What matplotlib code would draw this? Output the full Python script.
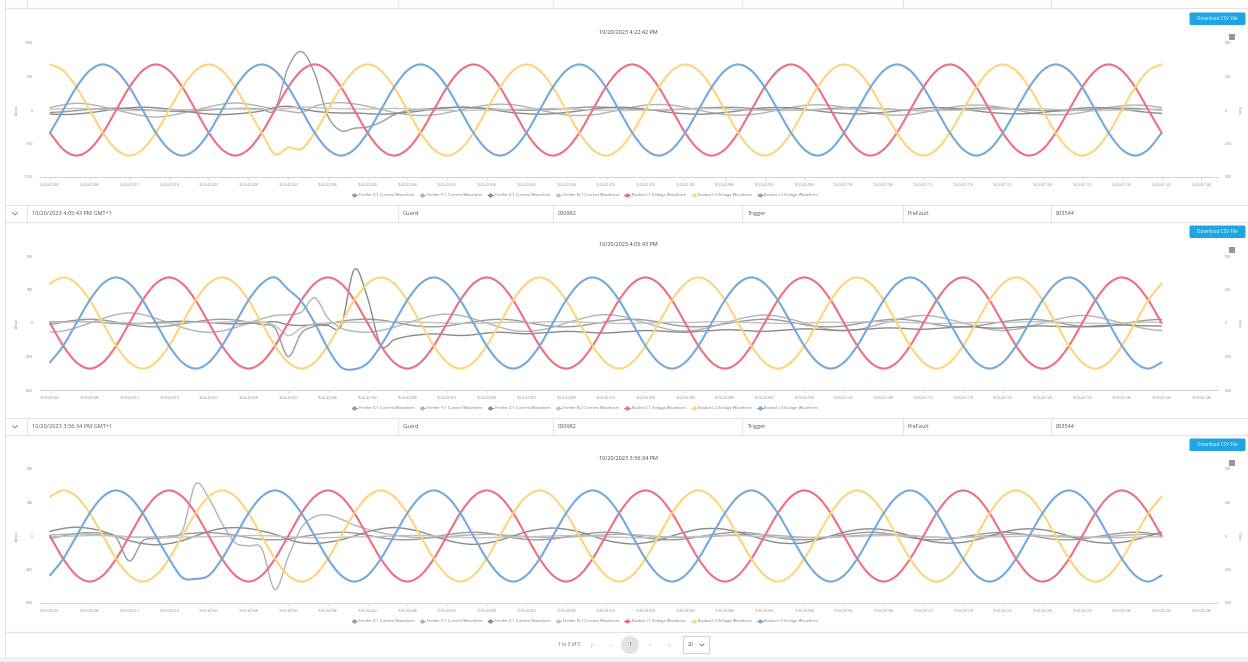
import numpy as np
import matplotlib.pyplot as plt
from matplotlib.patches import Rectangle, FancyBboxPatch, Circle, PathPatch
from matplotlib.lines import Line2D
from matplotlib.path import Path

plt.rcParams['font.family'] = ['Open Sans', 'DejaVu Sans']

W, H = 1248, 662
DT = 5.0 / 3      # ms between samples
T_START = 3.0     # first sample sits on the ".003" tick

feeder_names = ["Feeder X-1 Current Waveform", "Feeder Y-1 Current Waveform",
                "Feeder Z-1 Current Waveform", "Feeder N-1 Current Waveform"]
busbar_names = ["Busbar L1 Voltage Waveform", "Busbar L2 Voltage Waveform",
                "Busbar L3 Voltage Waveform"]
feeder_colors = ['#9a9a9a', '#b3b3b3', '#8a8a8a', '#c2c2c2']
busbar_colors = ['#ec6f82', '#fcd57b', '#74a9db']

tick_ms = [3, 8, 13, 18, 23, 28, 33, 38, 43, 48, 53, 58, 63, 68, 73, 78, 83, 88,
           93, 98, 103, 108, 113, 118, 123, 128, 133, 138, 143, 148]

titles = ["10/20/2023 4:22:42 PM", "10/20/2023 4:05:43 PM", "10/20/2023 3:56:34 PM"]
clocks = ["16:22:42", "16:05:43", "15:56:34"]
amp_limits = [1100, 800, 800]
amp_ticks = [[-1100, -550, 0, 550, 1100], [-800, -400, 0, 400, 800], [-800, -400, 0, 400, 800]]
volt_ticks = [-500, -250, 0, 250, 500]

row_headers = [["10/20/2023 4:05:43 PM GMT+1", "Guard", "000982", "Trigger", "PreFault", "803544"],
               ["10/20/2023 3:56:34 PM GMT+1", "Guard", "000982", "Trigger", "PreFault", "803544"]]

# ---------------- chart 1 (4:22:42 PM) ----------------
red_1 = [
    -170, -294, -340, -294, -170, 0, 170, 294, 340, 294, 170, 0,
    -170, -294, -340, -294, -170, 0, 170, 294, 340, 294, 170, 0,
    -170, -294, -340, -294, -170, 0, 170, 294, 340, 294, 170, 0,
    -170, -294, -340, -294, -170, 0, 170, 294, 340, 294, 170, 0,
    -170, -294, -340, -294, -170, 0, 170, 294, 340, 294, 170, 0,
    -170, -294, -340, -294, -170, 0, 170, 294, 340, 294, 170, 0,
    -170, -294, -340, -294, -170, 0, 170, 294, 340, 294, 170, 0,
    -170]
yellow_1 = [
    340, 294, 170, 0, -170, -294, -340, -294, -170, 0, 170, 294,
    340, 294, 170, 0, -170, -330, -280, -290, -170, 0, 170, 294,
    340, 294, 170, 0, -170, -294, -340, -294, -170, 0, 170, 294,
    340, 294, 170, 0, -170, -294, -340, -294, -170, 0, 170, 294,
    340, 294, 170, 0, -170, -294, -340, -294, -170, 0, 170, 294,
    340, 294, 170, 0, -170, -294, -340, -294, -170, 0, 170, 294,
    340, 294, 170, 0, -170, -294, -340, -294, -170, 0, 170, 294,
    340]
blue_1 = [
    -170, 0, 170, 294, 340, 294, 170, 0, -170, -294, -340, -294,
    -170, 0, 170, 294, 340, 294, 170, 0, -170, -294, -340, -294,
    -170, 0, 170, 294, 340, 294, 170, 0, -170, -294, -340, -294,
    -170, 0, 170, 294, 340, 294, 170, 0, -170, -294, -340, -294,
    -170, 0, 170, 294, 340, 294, 170, 0, -170, -294, -340, -294,
    -170, 0, 170, 294, 340, 294, 170, 0, -170, -294, -340, -294,
    -170, 0, 170, 294, 340, 294, 170, 0, -170, -294, -340, -294,
    -170]
feeder_x_1 = [
    -40, -30, -10, 10, 25, 30, 20, 5, -10, -20, -25, -15,
    0, 15, 25, 25, 15, 10, 700, 960, 600, -100, -340, -300,
    -280, -200, -80, -10, 10, 25, 40, 45, 40, 25, 10, 0,
    -5, 0, 10, 25, 40, 50, 45, 30, 15, 5, 0, 5,
    15, 30, 40, 45, 40, 25, 10, 0, -5, 0, 10, 25,
    35, 40, 35, 20, 5, -5, -10, -5, 5, 20, 30, 35,
    30, 15, 0, -10, -15, -10, 0, 15, 25, 30, 25, 10,
    0]
feeder_y_1 = [
    40, 85, 110, 95, 50, 0, -50, -95, -115, -95, -50, 0,
    50, 95, 115, 95, 55, 10, -20, -40, 60, 110, 120, 100,
    60, 10, -40, -75, -90, -80, -45, 0, 45, 80, 95, 85,
    50, 0, -45, -80, -90, -80, -45, 0, 45, 80, 90, 80,
    45, 0, -45, -75, -85, -75, -45, 0, 40, 75, 85, 75,
    45, 0, -40, -75, -85, -75, -40, 0, 40, 70, 80, 70,
    40, 0, -40, -70, -80, -70, -40, 0, 40, 70, 80, 70,
    40]
feeder_z_1 = [
    -65, -75, -65, -45, -15, 15, 35, 45, 35, 15, -15, -45,
    -65, -75, -65, -45, -15, 40, 60, 20, -20, -40, -50, -50,
    -60, -70, -60, -40, -15, 15, 35, 45, 35, 15, -15, -45,
    -60, -70, -60, -40, -15, 15, 35, 45, 35, 15, -15, -45,
    -60, -70, -60, -40, -15, 15, 35, 40, 35, 15, -15, -40,
    -55, -65, -55, -40, -15, 10, 30, 40, 30, 10, -15, -40,
    -55, -65, -55, -40, -15, 10, 30, 40, 30, 10, -15, -40,
    -55]
feeder_n_1 = [
    10, 20, 25, 20, 10, 0, -5, -10, -5, 0, 5, 10,
    15, 20, 20, 15, 10, 5, 30, 50, 40, 30, 20, 20,
    15, 20, 25, 20, 10, 0, -5, -10, -5, 0, 5, 10,
    15, 20, 25, 20, 10, 0, -5, -10, -5, 0, 5, 10,
    15, 20, 25, 20, 10, 0, -5, -10, -5, 0, 5, 10,
    15, 20, 25, 20, 10, 0, -5, -10, -5, 0, 5, 10,
    15, 20, 25, 20, 10, 0, -5, -10, -5, 0, 5, 10,
    15]

# ---------------- chart 2 (4:05:43 PM) ----------------
red_2 = [
    0, -170, -294, -340, -294, -170, 0, 170, 294, 340, 294, 170,
    0, -170, -294, -340, -294, -170, 0, 170, 294, 340, 294, 170,
    0, -170, -294, -340, -294, -170, 0, 170, 294, 340, 294, 170,
    0, -170, -294, -340, -294, -170, 0, 170, 294, 340, 294, 170,
    0, -170, -294, -340, -294, -170, 0, 170, 294, 340, 294, 170,
    0, -170, -294, -340, -294, -170, 0, 170, 294, 340, 294, 170,
    0, -170, -294, -340, -294, -170, 0, 170, 294, 340, 294, 170,
    0]
yellow_2 = [
    294, 340, 294, 170, 0, -170, -294, -340, -294, -170, 0, 170,
    294, 340, 294, 170, 0, -170, -294, -340, -294, -170, 0, 170,
    294, 340, 294, 170, 0, -170, -294, -340, -294, -170, 0, 170,
    294, 340, 294, 170, 0, -170, -294, -340, -294, -170, 0, 170,
    294, 340, 294, 170, 0, -170, -294, -340, -294, -170, 0, 170,
    294, 340, 294, 170, 0, -170, -294, -340, -294, -170, 0, 170,
    294, 340, 294, 170, 0, -170, -294, -340, -294, -170, 0, 170,
    294]
blue_2 = [
    -294, -170, 0, 170, 294, 340, 294, 170, 0, -170, -294, -340,
    -294, -170, 0, 170, 294, 340, 250, 160, 0, -190, -330, -345,
    -300, -170, 0, 170, 294, 340, 294, 170, 0, -170, -294, -340,
    -294, -170, 0, 170, 294, 340, 294, 170, 0, -170, -294, -340,
    -294, -170, 0, 170, 294, 340, 294, 170, 0, -170, -294, -340,
    -294, -170, 0, 170, 294, 340, 294, 170, 0, -170, -294, -340,
    -294, -170, 0, 170, 294, 340, 294, 170, 0, -170, -294, -340,
    -294]
feeder_x_2 = [
    -20, 10, 35, 45, 35, 10, -20, -40, -45, -35, -10, 15,
    35, 45, 35, 10, -20, -60, -400, -120, -40, -10, 20, 40,
    45, 35, 10, -20, -40, -45, -35, -10, 15, 35, 45, 35,
    10, -20, -40, -45, -35, -10, 15, 35, 45, 35, 10, -20,
    -40, -45, -35, -10, 15, 35, 45, 35, 10, -20, -40, -45,
    -35, -10, 15, 35, 45, 35, 10, -20, -40, -45, -35, -10,
    15, 35, 45, 35, 10, -20, -40, -45, -35, -10, 15, 35,
    45]
feeder_y_2 = [
    -110, -95, -55, 0, 55, 100, 120, 100, 55, 0, -55, -95,
    -110, -95, -55, 0, 50, 90, 100, 130, 300, 60, -60, -100,
    -110, -90, -50, 0, 50, 90, 105, 90, 50, 0, -50, -90,
    -100, -85, -50, 0, 45, 85, 100, 85, 45, 0, -45, -85,
    -95, -80, -45, 0, 45, 80, 95, 80, 45, 0, -45, -80,
    -90, -80, -45, 0, 40, 75, 90, 75, 40, 0, -40, -75,
    -90, -75, -40, 0, 40, 75, 90, 75, 40, 0, -40, -75,
    -90]
feeder_z_2 = [
    10, 15, 20, 15, 5, -5, -10, -5, 5, 15, 20, 15,
    5, -5, -10, -5, 5, 15, -20, -30, -20, -30, -30, 640,
    300, -270, -200, -160, -140, -130, -140, -150, -140, -120, -110, -120,
    -130, -120, -110, -100, -105, -115, -120, -110, -100, -90, -95, -105,
    -110, -100, -90, -80, -85, -95, -100, -90, -80, -70, -75, -85,
    -90, -80, -70, -60, -60, -70, -75, -65, -55, -45, -50, -60,
    -60, -50, -40, -35, -40, -45, -45, -35, -30, -25, -30, -35,
    -35]
feeder_n_2 = [
    5, 10, 15, 15, 10, 5, 0, -5, -5, 0, 5, 10,
    5, 10, 15, 15, 10, -30, -150, -60, -10, 0, 5, 10,
    5, 10, 15, 15, 10, 5, 0, -5, -5, 0, 5, 10,
    5, 10, 15, 15, 10, 5, 0, -5, -5, 0, 5, 10,
    5, 10, 15, 15, 10, 5, 0, -5, -5, 0, 5, 10,
    5, 10, 15, 15, 10, 5, 0, -5, -5, 0, 5, 10,
    5, 10, 15, 15, 10, 5, 0, -5, -5, 0, 5, 10,
    5]

# ---------------- chart 3 (3:56:34 PM) ----------------
red_3 = list(red_2)
yellow_3 = list(yellow_2)
blue_3 = [
    -294, -170, 0, 170, 294, 340, 294, 170, 0, -170, -310, -320,
    -294, -170, 0, 170, 294, 340, 294, 170, 0, -170, -294, -340,
    -294, -170, 0, 170, 294, 340, 294, 170, 0, -170, -294, -340,
    -294, -170, 0, 170, 294, 340, 294, 170, 0, -170, -294, -340,
    -294, -170, 0, 170, 294, 340, 294, 170, 0, -170, -294, -340,
    -294, -170, 0, 170, 294, 340, 294, 170, 0, -170, -294, -340,
    -294, -170, 0, 170, 294, 340, 294, 170, 0, -170, -294, -340,
    -294]
feeder_x_3 = [
    -30, 0, 30, 40, 30, -20, -300, -60, -30, -10, 20, 35,
    40, 30, 10, -20, -40, -45, -35, -10, 15, 35, 45, 35,
    10, -20, -40, -45, -35, -10, 15, 35, 45, 35, 10, -20,
    -40, -45, -35, -10, 15, 35, 45, 35, 10, -20, -40, -45,
    -35, -10, 15, 35, 45, 35, 10, -20, -40, -45, -35, -10,
    15, 35, 45, 35, 10, -20, -40, -45, -35, -10, 15, 35,
    45, 35, 10, -20, -40, -45, -35, -10, 15, 35, 45, 35,
    10]
feeder_y_3 = [
    10, 20, 25, 20, 10, 0, -10, -15, -10, 0, 60, 620,
    450, 150, -80, -120, -150, -640, -250, 100, 230, 250, 200, 130,
    80, 40, 10, -10, -20, -20, -10, 5, 15, 20, 15, 5,
    -5, -15, -20, -15, -5, 5, 15, 20, 15, 5, -5, -15,
    -20, -15, -5, 5, 15, 20, 15, 5, -5, -15, -20, -15,
    -5, 5, 15, 20, 15, 5, -5, -15, -20, -15, -5, 5,
    15, 20, 15, 5, -5, -15, -20, -15, -5, 5, 15, 20,
    15]
feeder_z_3 = [
    55, 90, 105, 90, 55, 0, -55, -90, -105, -90, -55, 0,
    55, 90, 100, 90, 60, 20, -40, -80, -90, -75, -45, 0,
    50, 85, 100, 85, 50, 0, -50, -85, -100, -85, -50, 0,
    50, 80, 95, 80, 50, 0, -50, -80, -95, -80, -50, 0,
    45, 80, 90, 80, 45, 0, -45, -80, -90, -80, -45, 0,
    45, 75, 85, 75, 45, 0, -45, -75, -85, -75, -45, 0,
    45, 75, 85, 75, 45, 0, -45, -75, -85, -75, -45, 0,
    45]
feeder_n_3 = [
    -10, -5, 0, 5, 5, 0, -10, -15, -20, -20, -15, -10,
    -10, -5, 0, 5, 5, 0, -10, -15, -20, -20, -15, -10,
    -10, -5, 0, 5, 5, 0, -10, -15, -20, -20, -15, -10,
    -10, -5, 0, 5, 5, 0, -10, -15, -20, -20, -15, -10,
    -10, -5, 0, 5, 5, 0, -10, -15, -20, -20, -15, -10,
    -10, -5, 0, 5, 5, 0, -10, -15, -20, -20, -15, -10,
    -10, -5, 0, 5, 5, 0, -10, -15, -20, -20, -15, -10,
    -10]

charts = [
    ([feeder_x_1, feeder_y_1, feeder_z_1, feeder_n_1], [red_1, yellow_1, blue_1]),
    ([feeder_x_2, feeder_y_2, feeder_z_2, feeder_n_2], [red_2, yellow_2, blue_2]),
    ([feeder_x_3, feeder_y_3, feeder_z_3, feeder_n_3], [red_3, yellow_3, blue_3]),
]

# layout in pixels
X0, X1 = 40, 1218
PH = 134
tops = [43, 256, 469]
T_LEFT = T_START - (50 - X0) / 7.94
T_RIGHT = T_START + (X1 - 50) / 7.94
GREY_TXT = '#8a8a8a'
LINE_C = '#e4e4e4'


def smooth_line(ax, y, color, lw):
    # draw the samples as a smooth (catmull-rom style) bezier curve, like a spline series
    y = np.asarray(y, float)
    x = T_START + np.arange(len(y)) * DT
    n = len(y)
    verts = [(x[0], y[0])]
    codes = [Path.MOVETO]
    for i in range(n - 1):
        a, b = max(i - 1, 0), min(i + 2, n - 1)
        verts.append((x[i] + (x[i + 1] - x[a]) / 6, y[i] + (y[i + 1] - y[a]) / 6))
        verts.append((x[i + 1] - (x[b] - x[i]) / 6, y[i + 1] - (y[b] - y[i]) / 6))
        verts.append((x[i + 1], y[i + 1]))
        codes += [Path.CURVE4] * 3
    ax.add_patch(PathPatch(Path(verts, codes), fc='none', ec=color, lw=lw, capstyle='round', joinstyle='round'))


fig = plt.figure(figsize=(W / 100, H / 100), dpi=100)
page = fig.add_axes([0, 0, 1, 1])
page.set_xlim(0, W)
page.set_ylim(H, 0)
page.axis('off')

# page frame
page.add_patch(Rectangle((0, 657), W, 5, color='#f1f1f1', lw=0))
page.plot([5, 5], [0, 657], color=LINE_C, lw=0.8)
page.plot([5, W], [8, 8], color=LINE_C, lw=0.8)
page.plot([5, W], [632, 632], color=LINE_C, lw=0.8)
for x in [27, 398, 553, 742, 903, 1051]:
    page.plot([x, x], [0, 8], color=LINE_C, lw=0.8)

# row headers between charts
cell_x = [27, 398, 553, 742, 903, 1051]
for r, cells in enumerate(row_headers):
    y0 = 205 + 213 * r
    page.plot([5, W], [y0, y0], color=LINE_C, lw=0.8)
    page.plot([5, W], [y0 + 17, y0 + 17], color=LINE_C, lw=0.8)
    for x in cell_x:
        page.plot([x, x], [y0, y0 + 17], color=LINE_C, lw=0.8)
    page.plot([12.5, 15, 17.5], [y0 + 7.5, y0 + 10, y0 + 7.5], color='#777777', lw=0.6)
    for x, txt in zip(cell_x, cells):
        page.text(x + 5, y0 + 8.8, txt, fontsize=4.1, color='#555555', va='center', ha='left')

# pagination
page.text(569, 645, "1 to 5 of 5", fontsize=3.4, color='#666666', ha='center', va='center')
for x, s in [(593, "|<"), (611, "<"), (650, ">"), (669, ">|")]:
    page.text(x, 645, s, fontsize=3.4, color='#bbbbbb', ha='center', va='center')
page.add_patch(Circle((630, 645), 9, color='#e2e2e2', lw=0))
page.text(630, 645, "1", fontsize=3.6, color='#666666', ha='center', va='center')
page.add_patch(Rectangle((682.5, 636), 26, 17, fill=False, ec='#d4d4d4', lw=0.8))
page.text(688, 645, "20", fontsize=3.6, color='#555555', ha='left', va='center')
page.plot([700, 702, 704], [644, 646, 644], color='#666666', lw=0.6)

for k in range(3):
    top = tops[k]
    currents, voltages = charts[k]

    # title, button, menu icon
    page.text(628, top - 11, titles[k], fontsize=4.0, color='#444444', ha='center', va='center')
    page.add_patch(FancyBboxPatch((1189.5, top - 30.5), 56, 12.5, boxstyle='round,pad=0,rounding_size=1.5',
                                  fc='#1ea5e2', ec='none'))
    page.text(1217.5, top - 24.2, "Download CSV File", fontsize=3.4, color='white', ha='center', va='center')
    for dy in [-8, -6, -4]:
        page.plot([1229, 1235], [top + dy, top + dy], color='#777777', lw=1.1, solid_capstyle='butt')
    page.text(17, top + PH / 2, "Amps", fontsize=2.6, color=GREY_TXT, rotation=90, ha='center', va='center')
    page.text(1239, top + PH / 2, "Volts", fontsize=2.6, color=GREY_TXT, rotation=270, ha='center', va='center')

    ax = fig.add_axes([X0 / W, 1 - (top + PH) / H, (X1 - X0) / W, PH / H])
    ax.set_facecolor('none')
    handles = []
    for y, c, name in zip(currents, feeder_colors, feeder_names):
        smooth_line(ax, y, c, 1.0)
        handles.append(Line2D([], [], color=c, lw=0.8, marker='o', markersize=2.0, label=name))
    ax.set_xlim(T_LEFT, T_RIGHT)
    ax.set_ylim(-amp_limits[k], amp_limits[k])
    ax.set_yticks(amp_ticks[k])
    ax.set_yticklabels([str(v) for v in amp_ticks[k]])
    ax.set_xticks(tick_ms)
    ax.set_xticklabels(["%s.%03d" % (clocks[k], m) for m in tick_ms])
    for s in ['top', 'left', 'right']:
        ax.spines[s].set_visible(False)
    ax.spines['bottom'].set_color('#d6d6d6')
    ax.spines['bottom'].set_linewidth(0.8)
    ax.tick_params(axis='x', length=2, width=0.5, color='#d6d6d6', labelsize=2.4, labelcolor=GREY_TXT, pad=2)
    ax.tick_params(axis='y', length=0, labelsize=2.6, labelcolor=GREY_TXT, pad=5)

    ax2 = ax.twinx()
    for y, c, name in zip(voltages, busbar_colors, busbar_names):
        smooth_line(ax2, y, c, 1.5)
        handles.append(Line2D([], [], color=c, lw=0.8, marker='o', markersize=2.0, label=name))
    ax2.set_xlim(T_LEFT, T_RIGHT)
    ax2.set_ylim(-500, 500)
    ax2.set_yticks(volt_ticks)
    ax2.set_yticklabels([str(v) for v in volt_ticks])
    for s in ax2.spines.values():
        s.set_visible(False)
    ax2.tick_params(axis='y', length=0, labelsize=2.6, labelcolor=GREY_TXT, pad=5)

    ax.legend(handles=handles, loc='center', ncol=7, frameon=False, fontsize=2.9,
              bbox_to_anchor=(585 / W, 1 - (top + 152) / H), bbox_transform=fig.transFigure,
              handlelength=1.4, handletextpad=0.4, columnspacing=1.3, labelcolor='#777777')

fig.savefig('out.png', dpi=100)
